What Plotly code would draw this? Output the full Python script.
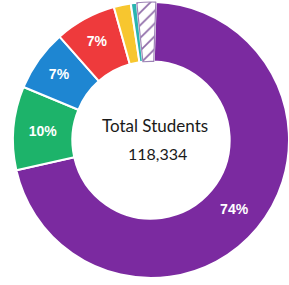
import plotly.graph_objects as go

categories = ["Group A", "Group B", "Group C", "Group D", "Group E", "Group F", "Group G"]
values = [71, 9.8, 7.2, 7.2, 2.0, 0.7, 2.2]
labels_text = ["74%", "10%", "7%", "7%", "", "", ""]
colors = ["#7b2aa0", "#1db36a", "#1e86d2", "#ee3a3c", "#f7c62f", "#2ab4b0", "#ffffff"]
patterns = ["", "", "", "", "", "", "/"]
total_label = "Total Students"
total_value = "118,334"

fig = go.Figure(go.Pie(
    labels=categories,
    values=values,
    text=labels_text,
    textinfo="text",
    textposition="inside",
    insidetextorientation="horizontal",
    sort=False,
    direction="clockwise",
    rotation=2,
    hole=0.57,
    marker=dict(
        colors=colors,
        line=dict(color=["white"] * 6 + ["#9d84b6"], width=[2] * 6 + [1.2]),
        pattern=dict(shape=patterns, fgcolor="#8e6aa8", bgcolor="#ffffff", size=9, solidity=0.18),
    ),
    textfont=dict(family="Arial, Liberation Sans, sans-serif", size=14, color="white", weight="bold"),
    showlegend=False,
    domain=dict(x=[13/289, 1.0], y=[1 - 278/285, 1 - 2/285]),
    hoverinfo="skip",
))

fig.add_annotation(x=155/289, y=1 - 125/285, xref="paper", yref="paper",
                   text=total_label, showarrow=False,
                   font=dict(family="Lato, Open Sans, sans-serif", size=17, color="#1a1a1a"))
fig.add_annotation(x=157/289, y=1 - 153/285, xref="paper", yref="paper",
                   text=total_value, showarrow=False,
                   font=dict(family="Lato, Open Sans, sans-serif", size=16, color="#1a1a1a"))

fig.update_layout(width=289, height=285, margin=dict(l=0, r=0, t=0, b=0),
                  paper_bgcolor="white", plot_bgcolor="white")
fig.write_html("out.html", config={"displayModeBar": False},
               post_script="document.body.style.margin='0';")
